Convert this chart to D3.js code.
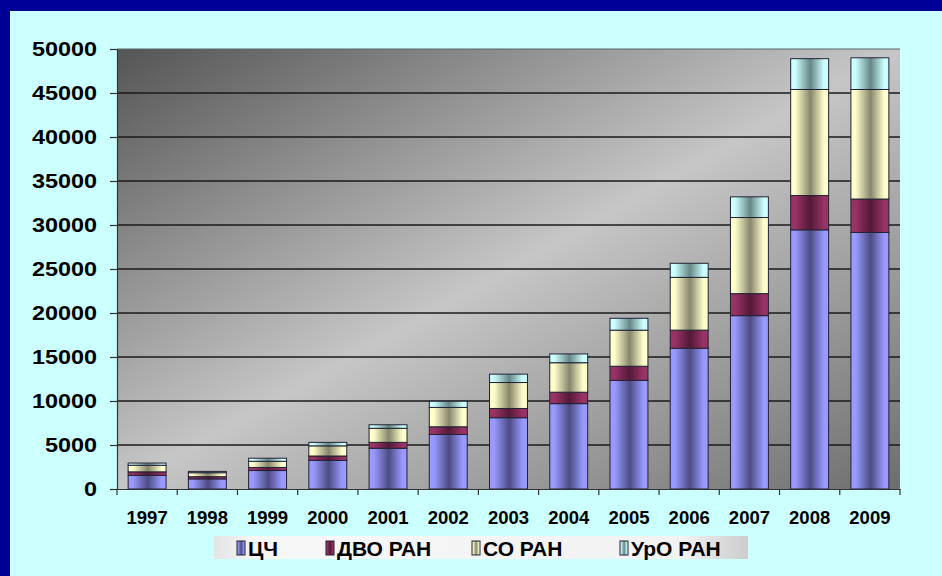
<!DOCTYPE html>
<html>
<head>
<meta charset="utf-8">
<script src="https://cdn.jsdelivr.net/npm/d3@7"></script>
<style>
  html, body { margin: 0; padding: 0; background: #ccffff; }
  svg { display: block; }
</style>
</head>
<body>
<div id="chart"></div>
<script>
// ---- data ----
const years = ['1997','1998','1999','2000','2001','2002','2003','2004','2005','2006','2007','2008','2009']
const seriesNames = ['ЦЧ', 'ДВО РАН', 'СО РАН', 'УрО РАН']
const cchValues = [1550, 1150, 2100, 3250, 4630, 6200, 8100, 9700, 12350, 16000, 19700, 29450, 29150]
const dvoValues = [400, 250, 350, 500, 670, 870, 1050, 1300, 1600, 2050, 2500, 3900, 3800]
const soValues  = [750, 450, 700, 1150, 1600, 2200, 2950, 3350, 4100, 6000, 8650, 12050, 12450]
const uroValues = [250, 150, 350, 400, 400, 700, 950, 1000, 1350, 1600, 2350, 3500, 3600]
const yTicks = [0, 5000, 10000, 15000, 20000, 25000, 30000, 35000, 40000, 45000, 50000]

const W = 942, H = 576
const plot = { left: 117, right: 900, top: 49, bottom: 489 }
const FONT = '"Liberation Sans", Arial, sans-serif'

// colours: [light edge, dark middle]
const palette = [
  ['#9999ff', '#4c4c84'],
  ['#993366', '#541938'],
  ['#ffffcc', '#86866c'],
  ['#ccffff', '#668686']
]

const rows = years.map((y, i) => ({
  year: y,
  [seriesNames[0]]: cchValues[i],
  [seriesNames[1]]: dvoValues[i],
  [seriesNames[2]]: soValues[i],
  [seriesNames[3]]: uroValues[i]
}))

const svg = d3.select('#chart').append('svg')
  .attr('width', W).attr('height', H)

const defs = svg.append('defs')

// plot background gradient (dark top-left -> light middle -> grey bottom-right)
const bg = defs.append('linearGradient').attr('id', 'plotBg')
  .attr('x1', 0).attr('y1', 0).attr('x2', 1).attr('y2', 1)
bg.append('stop').attr('offset', 0).attr('stop-color', '#555555')
bg.append('stop').attr('offset', 0.5).attr('stop-color', '#c6c6c6')
bg.append('stop').attr('offset', 1).attr('stop-color', '#6e6e6e')

// bar cylinder gradients
palette.forEach((c, i) => {
  const g = defs.append('linearGradient').attr('id', 'bar' + i)
    .attr('x1', 0).attr('y1', 0).attr('x2', 1).attr('y2', 0)
  g.append('stop').attr('offset', 0).attr('stop-color', c[0])
  g.append('stop').attr('offset', 0.12).attr('stop-color', c[0])
  g.append('stop').attr('offset', 0.52).attr('stop-color', c[1])
  g.append('stop').attr('offset', 0.88).attr('stop-color', c[0])
  g.append('stop').attr('offset', 1).attr('stop-color', c[0])
})

// legend box gradient
const lg = defs.append('linearGradient').attr('id', 'legBg')
  .attr('x1', 0).attr('y1', 0).attr('x2', 1).attr('y2', 0)
lg.append('stop').attr('offset', 0).attr('stop-color', '#e4e4e4')
lg.append('stop').attr('offset', 0.08).attr('stop-color', '#f7f7f7')
lg.append('stop').attr('offset', 0.88).attr('stop-color', '#f2f2f2')
lg.append('stop').attr('offset', 1).attr('stop-color', '#cccccc')

// page background + blue frame
svg.append('rect').attr('width', W).attr('height', H).attr('fill', '#ccffff')
svg.append('rect').attr('x', 0).attr('y', 0).attr('width', W).attr('height', 11).attr('fill', '#000099')
svg.append('rect').attr('x', 0).attr('y', 0).attr('width', 10).attr('height', H).attr('fill', '#000099')

// scales
const x = d3.scaleBand()
  .domain(years)
  .range([plot.left, plot.right])
  .paddingInner(0.37)
  .paddingOuter(0.185)

const y = d3.scaleLinear()
  .domain([0, 50000])
  .range([plot.bottom, plot.top])

// plot area
svg.append('rect')
  .attr('x', plot.left).attr('y', plot.top)
  .attr('width', plot.right - plot.left).attr('height', plot.bottom - plot.top)
  .attr('fill', 'url(#plotBg)')

svg.append('line')
  .attr('x1', plot.left).attr('x2', plot.right)
  .attr('y1', plot.top).attr('y2', plot.top)
  .attr('stroke', '#5a6464').attr('stroke-width', 1)

// gridlines
svg.append('g')
  .selectAll('line')
  .data(yTicks.filter(d => d > 0 && d < 50000))
  .join('line')
  .attr('x1', plot.left).attr('x2', plot.right)
  .attr('y1', d => y(d)).attr('y2', d => y(d))
  .attr('stroke', '#1a1a1a').attr('stroke-width', 1.4)

// stacked bars
const stack = d3.stack().keys(seriesNames)(rows)

svg.append('g')
  .selectAll('g')
  .data(stack)
  .join('g')
  .attr('fill', (d, i) => `url(#bar${i})`)
  .selectAll('rect')
  .data(d => d)
  .join('rect')
  .attr('x', d => x(d.data.year))
  .attr('width', x.bandwidth())
  .attr('y', d => y(d[1]))
  .attr('height', d => y(d[0]) - y(d[1]))
  .attr('stroke', '#222233')
  .attr('stroke-width', 1)

// y axis
svg.append('g')
  .attr('transform', `translate(${plot.left},0)`)
  .call(d3.axisLeft(y).tickValues(yTicks).tickSize(7).tickSizeOuter(0).tickFormat(d3.format('d')))
  .call(g => {
    g.select('.domain').attr('stroke', '#333333').attr('stroke-width', 1.2)
    g.selectAll('.tick line').attr('stroke', '#333333').attr('stroke-width', 1.2)
    g.selectAll('.tick text')
      .attr('x', -20 / 1.17)
      .attr('transform', 'scale(1.17,1)')
      .attr('fill', '#000000')
      .attr('font-size', '20px')
      .attr('font-weight', 'bold')
      .attr('font-family', FONT)
  })

// x axis
svg.append('g')
  .attr('transform', `translate(0,${plot.bottom})`)
  .call(d3.axisBottom(x).tickSize(0).tickSizeOuter(0))
  .call(g => {
    g.select('.domain').attr('stroke', '#333333').attr('stroke-width', 1.2)
    g.selectAll('.tick text')
      .attr('y', 34.5).attr('dy', 0)
      .attr('fill', '#000000')
      .attr('font-size', '18.5px')
      .attr('font-weight', 'bold')
      .attr('font-family', FONT)
  })

// category boundary ticks
svg.append('g')
  .selectAll('line')
  .data(d3.range(years.length + 1))
  .join('line')
  .attr('x1', i => plot.left + i * x.step()).attr('x2', i => plot.left + i * x.step())
  .attr('y1', plot.bottom).attr('y2', plot.bottom + 6)
  .attr('stroke', '#333333').attr('stroke-width', 1.2)

// legend
const legend = svg.append('g')
legend.append('rect')
  .attr('x', 214).attr('y', 536).attr('width', 534).attr('height', 23)
  .attr('fill', 'url(#legBg)')

const legendX = [237, 326, 472, 620]
const items = legend.selectAll('g.item')
  .data(seriesNames)
  .join('g')
  .attr('class', 'item')
  .attr('transform', (d, i) => `translate(${legendX[i]},0)`)

items.append('rect')
  .attr('x', 0).attr('y', 541).attr('width', 8).attr('height', 14)
  .attr('fill', (d, i) => `url(#bar${i})`)
  .attr('stroke', '#222233').attr('stroke-width', 1)

items.append('text')
  .attr('x', 11).attr('y', 555.5)
  .attr('fill', '#000000')
  .attr('font-size', '21px')
  .attr('font-weight', 'bold')
  .attr('font-family', FONT)
  .text(d => d)
</script>
</body>
</html>
